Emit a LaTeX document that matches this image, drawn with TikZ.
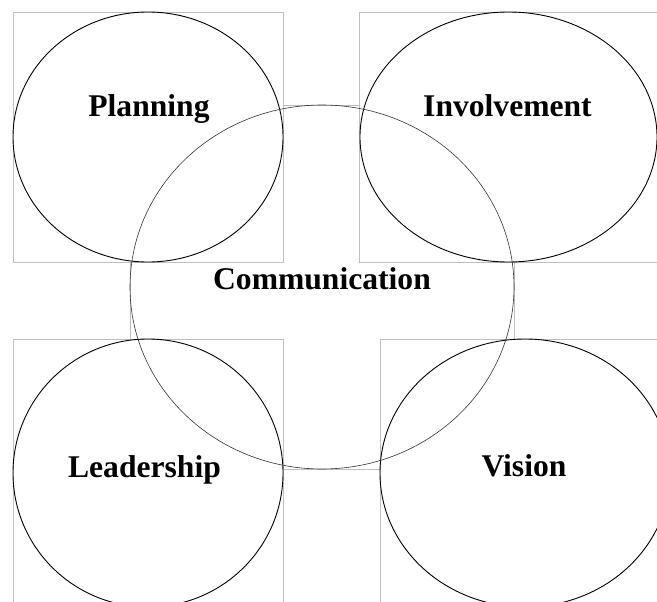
\documentclass[tikz,border=0pt]{standalone}
\usepackage{fontspec}
\setmainfont{Liberation Serif}
\tikzset{
  sqbox/.style={draw=black!25, fill=white, line width=0.6pt},
  ring/.style={draw=black, line width=0.9pt},
  hub/.style={draw=black!80, line width=0.6pt},
  word/.style={anchor=base, inner sep=0pt, font=\fontsize{31.6}{38}\selectfont\bfseries}
}
\begin{document}
\begin{tikzpicture}[x=1pt, y=-1pt]
  %%%%% START %%%%%
  \useasboundingbox (0,0) rectangle (657,602);
  \clip (0,0) rectangle (657,602);

  \draw[sqbox] (130,105) rectangle (514,469);

  \draw[sqbox] (13,12) rectangle (283,262);
  \draw[sqbox] (359,12) rectangle (658,262);
  \draw[sqbox] (13,339) rectangle (283,607);
  \draw[sqbox] (380,339) rectangle (670,607);

  \draw[ring] (148,137) ellipse [x radius=135pt, y radius=125pt];
  \draw[ring] (508.5,137) ellipse [x radius=148.5pt, y radius=125pt];
  \draw[ring] (148,473) ellipse [x radius=135pt, y radius=134pt];
  \draw[ring] (525,473) ellipse [x radius=145pt, y radius=134pt];

  \draw[hub] (322,287) ellipse [x radius=192pt, y radius=182pt];

  \node[word] (planning) at (149,117) {Planning};
  \node[word] (involvement) at (507.5,117) {Involvement};
  \node[word] (communication) at (322,289) {Communication};
  \node[word] (leadership) at (144.5,477) {Leadership};
  \node[word] (vision) at (524,476) {Vision};
  %%%%% END %%%%%
\end{tikzpicture}
\end{document}
